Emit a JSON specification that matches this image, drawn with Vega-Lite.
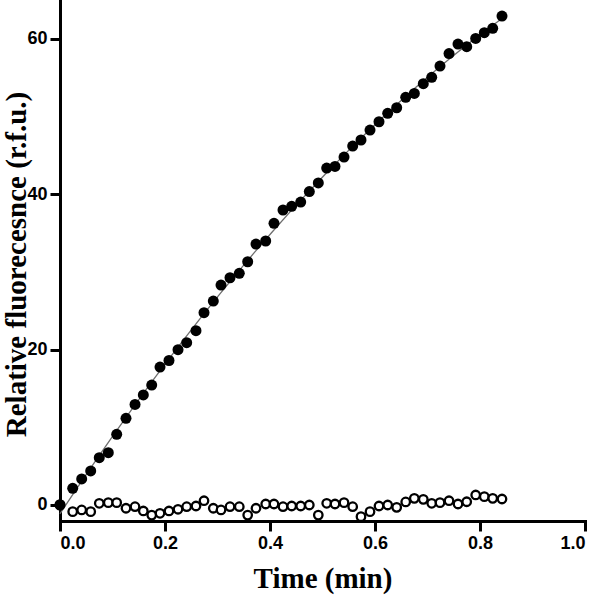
{
  "$schema": "https://vega.github.io/schema/vega-lite/v6.json",
  "width": 525,
  "height": 521,
  "autosize": {"type": "none"},
  "padding": {"left": 60, "top": 0, "right": 15, "bottom": 76},
  "background": "white",
  "config": {
    "view": {"stroke": null},
    "axis": {
      "domainColor": "black",
      "domainWidth": 3,
      "domainCap": "square",
      "tickColor": "black",
      "tickWidth": 3,
      "tickSize": 10,
      "grid": false,
      "labelFont": "Liberation Sans",
      "labelFontWeight": "bold",
      "labelFontSize": 18,
      "labelColor": "black",
      "titleFont": "Liberation Serif",
      "titleFontWeight": "bold",
      "titleFontSize": 29,
      "titleColor": "black"
    }
  },
  "data": {
    "values": [
      {"series": "filled", "t": 0.0, "rfu": 0.0},
      {"series": "filled", "t": 0.0242, "rfu": 2.15},
      {"series": "filled", "t": 0.0413, "rfu": 3.35},
      {"series": "filled", "t": 0.0585, "rfu": 4.38},
      {"series": "filled", "t": 0.0748, "rfu": 6.09},
      {"series": "filled", "t": 0.0920, "rfu": 6.73},
      {"series": "filled", "t": 0.1080, "rfu": 9.10},
      {"series": "filled", "t": 0.1257, "rfu": 11.15},
      {"series": "filled", "t": 0.1429, "rfu": 12.95},
      {"series": "filled", "t": 0.1587, "rfu": 14.16},
      {"series": "filled", "t": 0.1747, "rfu": 15.44},
      {"series": "filled", "t": 0.1905, "rfu": 17.76},
      {"series": "filled", "t": 0.2076, "rfu": 18.60},
      {"series": "filled", "t": 0.2248, "rfu": 19.99},
      {"series": "filled", "t": 0.2413, "rfu": 20.89},
      {"series": "filled", "t": 0.2590, "rfu": 22.43},
      {"series": "filled", "t": 0.2743, "rfu": 24.75},
      {"series": "filled", "t": 0.2920, "rfu": 26.25},
      {"series": "filled", "t": 0.3067, "rfu": 28.31},
      {"series": "filled", "t": 0.3238, "rfu": 29.25},
      {"series": "filled", "t": 0.3415, "rfu": 29.82},
      {"series": "filled", "t": 0.3575, "rfu": 31.31},
      {"series": "filled", "t": 0.3733, "rfu": 33.59},
      {"series": "filled", "t": 0.3918, "rfu": 33.98},
      {"series": "filled", "t": 0.4076, "rfu": 36.26},
      {"series": "filled", "t": 0.4248, "rfu": 37.97},
      {"series": "filled", "t": 0.4413, "rfu": 38.45},
      {"series": "filled", "t": 0.4585, "rfu": 38.99},
      {"series": "filled", "t": 0.4749, "rfu": 40.34},
      {"series": "filled", "t": 0.4920, "rfu": 41.46},
      {"series": "filled", "t": 0.5080, "rfu": 43.37},
      {"series": "filled", "t": 0.5238, "rfu": 43.58},
      {"series": "filled", "t": 0.5410, "rfu": 44.78},
      {"series": "filled", "t": 0.5575, "rfu": 46.20},
      {"series": "filled", "t": 0.5733, "rfu": 46.98},
      {"series": "filled", "t": 0.5905, "rfu": 48.26},
      {"series": "filled", "t": 0.6076, "rfu": 49.33},
      {"series": "filled", "t": 0.6242, "rfu": 50.41},
      {"series": "filled", "t": 0.6413, "rfu": 51.13},
      {"series": "filled", "t": 0.6585, "rfu": 52.47},
      {"series": "filled", "t": 0.6749, "rfu": 52.98},
      {"series": "filled", "t": 0.6920, "rfu": 54.23},
      {"series": "filled", "t": 0.7080, "rfu": 55.05},
      {"series": "filled", "t": 0.7238, "rfu": 56.50},
      {"series": "filled", "t": 0.7410, "rfu": 58.11},
      {"series": "filled", "t": 0.7581, "rfu": 59.33},
      {"series": "filled", "t": 0.7747, "rfu": 58.99},
      {"series": "filled", "t": 0.7918, "rfu": 60.06},
      {"series": "filled", "t": 0.8082, "rfu": 60.79},
      {"series": "filled", "t": 0.8242, "rfu": 61.36},
      {"series": "filled", "t": 0.8419, "rfu": 62.93},
      {"series": "open", "t": 0.0, "rfu": 0.05},
      {"series": "open", "t": 0.0242, "rfu": -0.86},
      {"series": "open", "t": 0.0413, "rfu": -0.64},
      {"series": "open", "t": 0.0585, "rfu": -0.86},
      {"series": "open", "t": 0.0748, "rfu": 0.22},
      {"series": "open", "t": 0.0920, "rfu": 0.30},
      {"series": "open", "t": 0.1080, "rfu": 0.30},
      {"series": "open", "t": 0.1257, "rfu": -0.42},
      {"series": "open", "t": 0.1429, "rfu": -0.22},
      {"series": "open", "t": 0.1587, "rfu": -0.77},
      {"series": "open", "t": 0.1747, "rfu": -1.30},
      {"series": "open", "t": 0.1905, "rfu": -1.07},
      {"series": "open", "t": 0.2076, "rfu": -0.77},
      {"series": "open", "t": 0.2248, "rfu": -0.55},
      {"series": "open", "t": 0.2413, "rfu": -0.22},
      {"series": "open", "t": 0.2590, "rfu": -0.13},
      {"series": "open", "t": 0.2743, "rfu": 0.55},
      {"series": "open", "t": 0.2920, "rfu": -0.42},
      {"series": "open", "t": 0.3067, "rfu": -0.64},
      {"series": "open", "t": 0.3238, "rfu": -0.22},
      {"series": "open", "t": 0.3415, "rfu": -0.22},
      {"series": "open", "t": 0.3575, "rfu": -1.30},
      {"series": "open", "t": 0.3733, "rfu": -0.42},
      {"series": "open", "t": 0.3918, "rfu": 0.13},
      {"series": "open", "t": 0.4076, "rfu": 0.13},
      {"series": "open", "t": 0.4248, "rfu": -0.22},
      {"series": "open", "t": 0.4413, "rfu": -0.13},
      {"series": "open", "t": 0.4585, "rfu": -0.13},
      {"series": "open", "t": 0.4749, "rfu": 0.0},
      {"series": "open", "t": 0.4920, "rfu": -1.30},
      {"series": "open", "t": 0.5080, "rfu": 0.22},
      {"series": "open", "t": 0.5238, "rfu": 0.13},
      {"series": "open", "t": 0.5410, "rfu": 0.30},
      {"series": "open", "t": 0.5575, "rfu": -0.22},
      {"series": "open", "t": 0.5733, "rfu": -1.50},
      {"series": "open", "t": 0.5905, "rfu": -0.86},
      {"series": "open", "t": 0.6076, "rfu": -0.13},
      {"series": "open", "t": 0.6242, "rfu": 0.0},
      {"series": "open", "t": 0.6413, "rfu": -0.30},
      {"series": "open", "t": 0.6585, "rfu": 0.39},
      {"series": "open", "t": 0.6749, "rfu": 0.86},
      {"series": "open", "t": 0.6920, "rfu": 0.73},
      {"series": "open", "t": 0.7080, "rfu": 0.22},
      {"series": "open", "t": 0.7238, "rfu": 0.30},
      {"series": "open", "t": 0.7410, "rfu": 0.55},
      {"series": "open", "t": 0.7581, "rfu": 0.13},
      {"series": "open", "t": 0.7747, "rfu": 0.42},
      {"series": "open", "t": 0.7918, "rfu": 1.29},
      {"series": "open", "t": 0.8082, "rfu": 1.07},
      {"series": "open", "t": 0.8242, "rfu": 0.86},
      {"series": "open", "t": 0.8419, "rfu": 0.77}
    ]
  },
  "encoding": {
    "x": {
      "field": "t", "type": "quantitative",
      "scale": {"domain": [0, 1], "nice": false, "zero": false},
      "axis": {"values": [0, 0.2, 0.4, 0.6, 0.8, 1.0], "format": ".1f", "title": "Time (min)", "labelPadding": 3, "titleBaseline": "alphabetic", "titleY": 66}
    },
    "y": {
      "field": "rfu", "type": "quantitative",
      "scale": {"domain": [-2.06, 65.0], "nice": false, "zero": false},
      "axis": {"values": [0, 20, 40, 60], "title": "Relative fluorecesnce (r.f.u.)", "labelPadding": 3, "titleBaseline": "alphabetic", "titleX": -35, "titleY": 264}
    }
  },
  "layer": [
    {
      "transform": [{"filter": "datum.series === 'open'"}],
      "mark": {"type": "point", "shape": "circle", "filled": true, "fill": "white", "stroke": "black", "strokeWidth": 2.3, "size": 72, "opacity": 1}
    },
    {
      "transform": [
        {"filter": "datum.series === 'filled'"},
        {"regression": "rfu", "on": "t", "method": "poly", "order": 2}
      ],
      "mark": {"type": "line", "color": "#6e6e6e", "strokeWidth": 1.3}
    },
    {
      "transform": [{"filter": "datum.series === 'filled'"}],
      "mark": {"type": "point", "shape": "circle", "filled": true, "fill": "black", "stroke": "black", "strokeWidth": 0, "size": 121, "opacity": 1}
    }
  ]
}
